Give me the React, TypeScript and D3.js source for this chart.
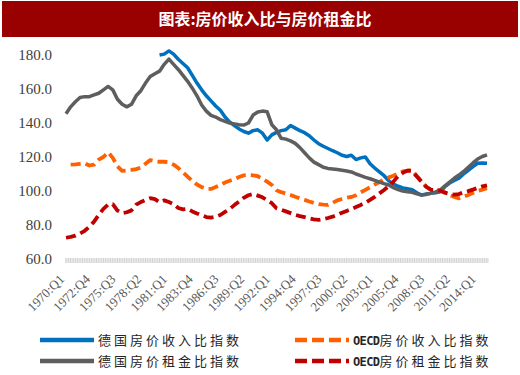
import React from 'react';
import * as d3 from 'd3';

const title = '图表:房价收入比与房价租金比';
const yTicks = [60, 80, 100, 120, 140, 160, 180];
const xTickLabels = ['1970:Q1', '1972:Q4', '1975:Q3', '1978:Q2', '1981:Q1', '1983:Q4', '1986:Q3', '1989:Q2', '1992:Q1', '1994:Q4', '1997:Q3', '2000:Q2', '2003:Q1', '2005:Q4', '2008:Q3', '2011:Q2', '2014:Q1'];
// quarterly category axis 1970:Q1 .. 2015:Q1; series read every second quarter (Q1 / Q3)
const firstYear = 1970;
const quarterCount = 181;
const sampleStep = 2;

const gerIncome: (number | null)[] = [
  null, null, null, null, null, null, null, null, null, null,
  null, null, null, null, null, null, null, null, null, null,
  180, 180.5, 182.4, 180.5, 177.5, 175, 172.5, 168, 163.5, 159.5,
  156, 153, 150, 147.5, 143.5, 140.5, 138.5, 136.5, 135, 134,
  135.5, 136, 134, 130, 133,
  134.5, 135.5, 136, 138.5, 137, 135.5, 134.3, 132.5, 130, 127.8,
  126.3, 125, 123.7, 122.5, 121, 120.3, 121, 118.5, 119.5, 120,
  116, 113.5, 111.3, 109, 106, 104, 102.8, 101.8, 101.3, 100.8,
  99, 97.6, 98.3, 98.6, 99, 99.6, 102.5, 104.7, 106.2, 107.5,
  110, 112.2, 114.3, 116.3, 116.5, 116.3,
];

const oecdIncome: (number | null)[] = [
  null, 115.5, 115.7, 116, 116.3, 115, 115.5, 118.5, 120, 122.8,
  119.5, 114.5, 111.8, 112, 112.4,
  112.9, 113.8, 116, 118.2, 117.5, 117.2, 117.2, 116.9, 115.5, 113.5,
  111, 108.4, 106, 103.8, 102.3, 101.3, 101.2, 102.3, 103.5, 105,
  106, 107, 108.2, 109.2, 109.4, 109.2, 108.7, 107.2, 105.5, 103.5,
  100.5, 99.3, 98.5, 97.7, 96.6, 95.6, 94.8, 93.8, 93, 92.3,
  92, 91.8, 93, 94.5, 95.3, 96, 96.5, 97.5, 99.2, 100.7,
  102.2, 103.8, 105.3, 106.7, 108, 109, 110.3, 111.5, 112, 112.4,
  108.8, 105.5, 102.5, 100.6, 100.6, 100.3, 99.2, 97.6, 96.5, 95.7,
  96.6, 97.7, 98.9, 100, 100.8, 101.6,
];

const gerRent: (number | null)[] = [
  145.5, 149.5, 152.5, 155, 155.5, 155.5, 156.5, 157.5, 159.5, 161.5,
  159.5, 154, 151, 149.5, 151,
  156, 159, 163.5, 167.3, 169, 170.5, 174.5, 177.6, 174.5, 171.5,
  168, 164.5, 160.5, 156, 150.6, 147, 144.5, 143.5, 142, 141,
  140, 139.5, 139, 138.8, 140, 144.7, 146.5, 147, 146.6, 139,
  136, 131, 130.5, 129.5, 128, 125.5, 122.5, 119.5, 117, 115.5,
  114, 113.3, 113, 112.6, 112.2, 111.8, 111.2, 110, 109, 108,
  107.2, 106.3, 105.2, 104.3, 103.5, 102, 100.8, 100, 99.5, 99.2,
  98.3, 97.6, 98, 98.6, 99.5, 100.5, 103, 105.2, 107.5, 109.4,
  111.5, 114, 116.5, 118.8, 120.3, 121.3,
];

const oecdRent: (number | null)[] = [
  72.5, 73, 73.7, 75, 76.6, 79, 82, 86, 89.5, 92,
  92.3, 88.5, 87, 87.5, 88.6,
  92, 93.5, 94.7, 95.8, 95.2, 93.4, 94.5, 93.5, 92.3, 90,
  89.2, 89.5, 88, 86.8, 85.7, 84.7, 84.3, 84.8, 85.9, 87.7,
  89.5, 91.7, 93.8, 96, 97.5, 98.2, 97.3, 96.3, 94.5, 92.8,
  89.8, 89, 88, 87, 86, 85.2, 84.6, 83.9, 83.3, 83,
  83.4, 84.1, 84.9, 86, 87.2, 88.3, 89.4, 90.6, 91.8, 93.1,
  94.8, 96.5, 98.6, 100.6, 102.9, 105.5, 108.8, 110.7, 112, 111.7,
  108.5, 105.5, 102.5, 100.8, 100.6, 100.2, 99, 98.3, 97.8, 98.2,
  99.2, 99.9, 100.8, 101.8, 102.7, 103.3,
];

const seriesNames = ['德国房价收入比指数', 'OECD房价收入比指数', '德国房价租金比指数', 'OECD房价租金比指数'];

const W = 520;
const H = 375;

const styles = [
  { color: '#0070C0', dash: null as string | null, width: 3.5 },
  { color: '#FF6100', dash: '10,5', width: 3.8 },
  { color: '#5E5E5E', dash: null as string | null, width: 3.5 },
  { color: '#C00000', dash: '10,5', width: 3.8 },
];

function quarterIndex(label: string): number {
  const [yr, q] = label.split(':');
  return (Number(yr) - firstYear) * 4 + (Number(q.slice(1)) - 1);
}

export default function App() {
  const x = d3.scaleLinear().domain([0, quarterCount - 1]).range([66, 487]);
  const y = d3.scaleLinear().domain([60, 180]).range([259, 55]);
  const allSeries = [gerIncome, oecdIncome, gerRent, oecdRent];

  const line = d3
    .line<number | null>()
    .defined((v) => v != null)
    .x((_, i) => x(i * sampleStep))
    .y((v) => y(v as number));

  const tickIdx = d3.range(quarterCount);

  const legendItems = [
    { s: 0, lx: 40, ly: 340 },
    { s: 1, lx: 295, ly: 340 },
    { s: 2, lx: 40, ly: 361 },
    { s: 3, lx: 295, ly: 361 },
  ];

  return (
    <svg width={W} height={H} style={{ position: 'absolute', left: 0, top: 0, background: '#fff' }}>
      <rect x={0} y={0} width={W} height={H} fill="#fff" />
      <rect x={2} y={1} width={516} height={36} fill="#990000" />
      <text x={265} y={25} textAnchor="middle" fill="#fff" fontSize={16} fontWeight="bold" fontFamily="'Noto Sans CJK SC', sans-serif">
        {title}
      </text>

      {yTicks.map((t) => (
        <text key={t} x={52} y={y(t)} dy="0.35em" textAnchor="end" fontSize={15} fill="#404040" fontFamily="'Liberation Serif', serif">
          {t.toFixed(1)}
        </text>
      ))}

      <rect x={65} y={258} width={424} height={5} fill="#ececec" />
      {tickIdx.map((i) => (
        <line key={i} x1={x(i)} x2={x(i)} y1={258} y2={263} stroke="#d2d2d2" strokeWidth={1} />
      ))}

      {xTickLabels.map((lab) => {
        const px = x(quarterIndex(lab)) - 1;
        const py = 280;
        return (
          <text key={lab} x={px} y={py} textAnchor="end" fontSize={13} fill="#595959" fontFamily="'Liberation Serif', serif" transform={`rotate(-45 ${px} ${py})`}>
            {lab}
          </text>
        );
      })}

      {allSeries.map((s, k) => (
        <path
          key={k}
          d={line(s) || ''}
          fill="none"
          stroke={styles[k].color}
          strokeWidth={styles[k].width}
          strokeDasharray={styles[k].dash || undefined}
          strokeLinejoin="round"
        />
      ))}

      {legendItems.map(({ s, lx, ly }) => {
        const name = seriesNames[s];
        const latin = name.startsWith('OECD') ? 'OECD' : '';
        const rest = name.slice(latin.length);
        return (
          <g key={s}>
            <line x1={lx} x2={lx + 54} y1={ly} y2={ly} stroke={styles[s].color} strokeWidth={4.5} strokeDasharray={styles[s].dash ? '12,5' : undefined} />
            <text x={lx + 58} y={ly + 5} fontSize={13} fill="#262626" fontFamily="'Noto Sans CJK SC', sans-serif">
              {latin && (
                <tspan fontFamily="'DejaVu Sans Mono', monospace" fontWeight="bold" fontSize={12} letterSpacing={-0.6}>
                  {latin}
                </tspan>
              )}
              <tspan letterSpacing={3}>{rest}</tspan>
            </text>
          </g>
        );
      })}
    </svg>
  );
}
